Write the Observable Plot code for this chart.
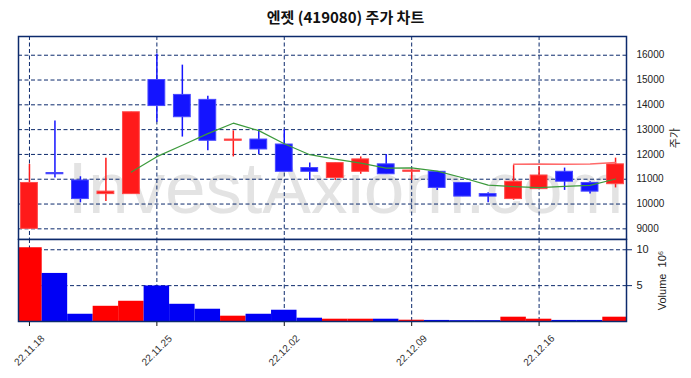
<!DOCTYPE html>
<html><head><meta charset="utf-8">
<script src="https://cdn.jsdelivr.net/npm/d3@7"></script>
<script src="https://cdn.jsdelivr.net/npm/@observablehq/plot@0.6"></script>
<style>
body{margin:0;background:#fff;}
#wrap{position:relative;width:691px;height:378px;overflow:hidden;background:#fff;}
#title{position:absolute;top:7px;left:0;width:691px;text-align:center;font-family:"Noto Sans CJK KR",sans-serif;font-size:15px;line-height:20px;font-weight:bold;color:#111;}
#top{position:absolute;left:0;top:0;}
#bot{position:absolute;left:0;top:234px;}
</style></head><body>
<div id="wrap"><div id="top"></div><div id="bot"></div><div id="title">엔젯 (419080) 주가 차트</div></div>
<script>
const dates = ["22.11.18","22.11.21","22.11.22","22.11.23","22.11.24","22.11.25","22.11.28","22.11.29","22.11.30","22.12.01","22.12.02","22.12.05","22.12.06","22.12.07","22.12.08","22.12.09","22.12.12","22.12.13","22.12.14","22.12.15","22.12.16","22.12.19","22.12.20","22.12.21"];
const opens  = [9000,11250,10950,10400,10400,15000,14400,14200,12550,12600,12400,11450,11050,11300,11600,11300,11300,10850,10400,10200,10600,11300,10850,10800];
const highs  = [11600,13350,11100,11850,13700,16050,15600,14350,12950,13000,13000,11650,11650,11900,12000,11400,11300,10850,10450,11550,11500,11450,10900,11850];
const lows   = [9000,11050,10050,10100,10400,13300,12700,12150,11900,12000,11300,10950,10950,11200,11200,10950,10550,10300,10050,10150,10600,10550,10400,10650];
const closes = [10850,11200,10200,10500,13700,13950,13500,12550,12600,12200,11300,11300,11650,11800,11200,11350,10650,10300,10300,10900,11150,10900,10500,11600];
const volumes = [10.28,6.7,1.01,2.12,2.82,4.95,2.4,1.71,0.74,1.01,1.57,0.46,0.32,0.32,0.32,0.18,0.15,0.12,0.12,0.6,0.32,0.15,0.15,0.6]; // x10^6
const priceTicks = [9000,10000,11000,12000,13000,14000,15000,16000];
const volTicks = [5,10];
const dateTickIdx = [0,5,10,15,20];

const NAVY = "#0c2a6c", RED = "#ff1a1a", BLUE = "#1414ff", VRED = "#ff0000", VBLUE = "#0000f5";
const rows = dates.map((d,i)=>({i, d, o:opens[i], h:highs[i], l:lows[i], c:closes[i], v:volumes[i], up: closes[i] >= opens[i]}));
function ma(n){ return closes.map((_,i)=> i < n-1 ? null : d3.mean(closes.slice(i-n+1, i+1))); }
const ma5 = ma(5), ma20 = ma(20);
const maRows = rows.map((r,i)=>({i, m5: ma5[i], m20: ma20[i]}));
const xDom = [-0.43, dates.length - 1 + 0.43];
const gridOpts = {stroke: NAVY, strokeOpacity: 1, strokeWidth: 1, strokeDasharray: "4,2.5"};
const style = {fontFamily: "'Liberation Sans', Arial, sans-serif", fontSize: "10px", color: "#222", background: "transparent"};

const topPlot = Plot.plot({
  width: 691, height: 240, marginLeft: 18, marginRight: 65, marginTop: 36, marginBottom: 1,
  style,
  color: {type: "identity"},
  x: {domain: xDom, axis: null},
  y: {domain: [8570, 16755], axis: null},
  marks: [
    Plot.text(["InvestAxiom.com"], {frameAnchor: "middle", dx: 23, dy: 52, textAnchor: "middle", lineAnchor: "middle", fontSize: 73, fill: "#e3e3e3", fontFamily: "'Liberation Sans', Arial, sans-serif"}),
    Plot.gridY(priceTicks, gridOpts),
    Plot.gridX(dateTickIdx, gridOpts),
    Plot.ruleX(rows, {x: "i", y1: "l", y2: "h", stroke: d => d.up ? RED : BLUE, strokeWidth: 1.5}),
    Plot.rectY(rows, {x1: d => d.i - 0.33, x2: d => d.i + 0.33, y1: "o", y2: "c", fill: d => d.up ? RED : BLUE, stroke: d => d.up ? "#ff4a4a" : "#4848ff", strokeWidth: 1}),
    Plot.lineY(maRows.filter(d => d.m5 != null), {x: "i", y: "m5", stroke: "#3c9a3c", strokeWidth: 1.2}),
    Plot.lineY(maRows.filter(d => d.m20 != null), {x: "i", y: "m20", stroke: "#ff6a6a", strokeWidth: 1.5}),
    Plot.axisY(priceTicks, {anchor: "right", tickSize: 0, tickPadding: 10, tickFormat: d => String(d), label: null, fontSize: 10}),
    Plot.frame({stroke: NAVY, strokeWidth: 1.5}),
    Plot.text(["주가"], {frameAnchor: "right", dx: 49, rotate: -90, textAnchor: "middle", lineAnchor: "middle", fontSize: 11, fill: "#222", fontFamily: "'Noto Sans CJK KR', sans-serif"})
  ]
});
document.getElementById("top").appendChild(topPlot);

const botPlot = Plot.plot({
  width: 691, height: 144, marginLeft: 18, marginRight: 65, marginTop: 5, marginBottom: 57,
  style,
  color: {type: "identity"},
  x: {domain: xDom, axis: null},
  y: {domain: [0, 11.43], axis: null},
  marks: [
    Plot.gridY(volTicks, gridOpts),
    Plot.gridX(dateTickIdx, gridOpts),
    Plot.rectY(rows, {x1: d => d.i - 0.5, x2: d => d.i + 0.5, y1: 0, y2: "v", fill: d => d.up ? VRED : VBLUE, clip: true}),
    Plot.axisY(volTicks, {anchor: "right", tickSize: 5, tickPadding: 5, tickFormat: d => String(d), label: null, fontSize: 11, stroke: NAVY}),
    Plot.axisX(dateTickIdx, {anchor: "bottom", tickSize: 5, tickFormat: () => "", label: null, stroke: "#111"}),
    Plot.text(dateTickIdx, {x: d => d, frameAnchor: "bottom", dy: 29, rotate: -45, text: d => dates[d], textAnchor: "middle", lineAnchor: "middle", fontSize: 10, fill: "#333"}),
    Plot.frame({stroke: NAVY, strokeWidth: 1.5}),
    Plot.text(["Volume  10⁶"], {frameAnchor: "right", dx: 36, rotate: -90, textAnchor: "middle", lineAnchor: "middle", fontSize: 11, fill: "#222"})
  ]
});
document.getElementById("bot").appendChild(botPlot);
</script>
</body></html>
